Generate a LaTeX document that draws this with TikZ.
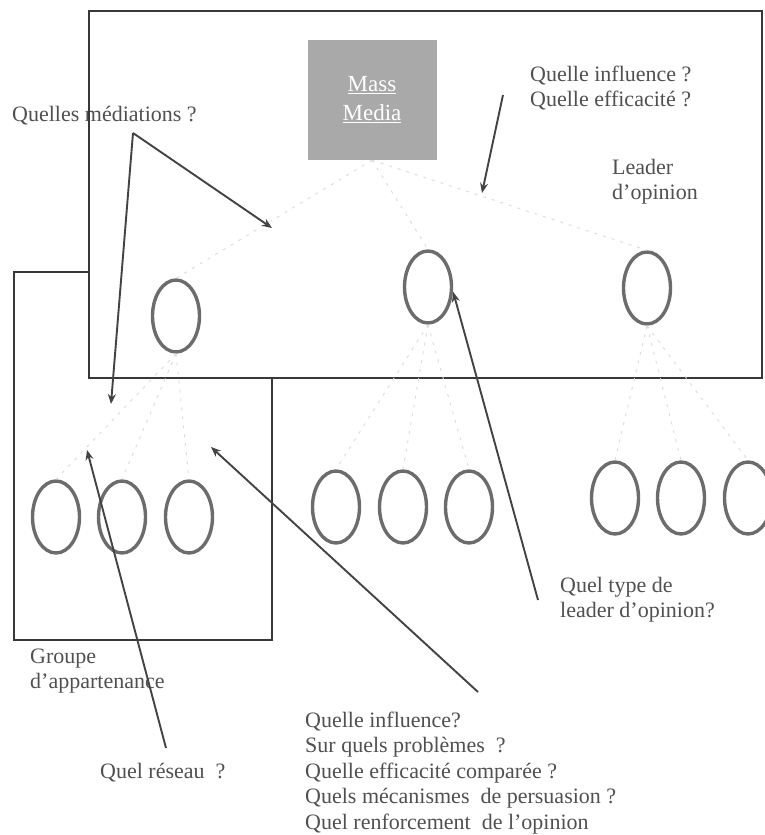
\documentclass[tikz,border=0pt]{standalone}
\usepackage{fontspec}
\setmainfont{Liberation Serif}
\usetikzlibrary{shapes.geometric,arrows.meta}
\definecolor{boxline}{HTML}{383838}
\definecolor{ringcol}{HTML}{6C6C6C}
\definecolor{mediafill}{HTML}{A9A9A9}
\definecolor{txt}{HTML}{505050}
\definecolor{arrowcol}{HTML}{434343}
\begin{document}
\begin{tikzpicture}[x=1pt,y=-1pt,
  frame/.style={draw=boxline,line width=2.8pt},
  person/.style={ellipse,draw=ringcol,line width=3.4pt,minimum width=47pt,minimum height=72pt,inner sep=0pt},
  lbl/.style={text=txt,font=\fontsize{22}{25}\selectfont,align=left,anchor=west,inner sep=0pt},
  pointer/.style={draw=arrowcol,line width=1.9pt,-{Stealth[length=10pt,width=8pt]}},
  link/.style={draw=gray!28,line width=0.9pt,dash pattern=on 3pt off 6pt}]
\useasboundingbox (0,0) rectangle (765,835);

% frames: group box behind the media box
\draw[frame] (14,272) rectangle (272,640);
\draw[frame,fill=white] (89,11) rectangle (762,378);

% mass media
\node[fill=mediafill,minimum width=129pt,minimum height=120pt,inner sep=0pt,
      text=white,font=\fontsize{23}{29}\selectfont,align=center] (media) at (372,100)
  {\underline{Mass}\\\underline{Media}};

% opinion leaders
\node[person] (l1) at (176,316) {};
\node[person] (l2) at (428,287) {};
\node[person] (l3) at (647,288) {};

% group members
\node[person] (a1) at (56,517) {};
\node[person] (a2) at (122,517) {};
\node[person] (a3) at (189,517) {};
\node[person] (b1) at (336,507) {};
\node[person] (b2) at (403,507) {};
\node[person] (b3) at (469,507) {};
\node[person] (c1) at (615,498) {};
\node[person] (c2) at (681,498) {};
\node[person] (c3) at (748,498) {};

% faint flows of influence
\foreach \t in {l1,l2,l3} \draw[link] (media.south) -- (\t.north);
\foreach \t in {a1,a2,a3} \draw[link] (l1.south) -- (\t.north);
\foreach \t in {b1,b2,b3} \draw[link] (l2.south) -- (\t.north);
\foreach \t in {c1,c2,c3} \draw[link] (l3.south) -- (\t.north);

% labels
\node[lbl] (medq) at (12,116) {Quelles médiations ?};
\node[lbl] (infq) at (530,88) {Quelle influence ?\\Quelle efficacité ?};
\node[lbl] (leader) at (612,182) {Leader\\d'opinion};
\node[lbl] (typeq) at (560,600) {Quel type de\\leader d'opinion?};
\node[lbl] (groupe) at (30,671) {Groupe\\d'appartenance};
\node[lbl] (resq) at (100,773) {Quel réseau\ \ ?};
\node[lbl,font=\fontsize{22}{25.5}\selectfont] (multi) at (305,773)
  {Quelle influence?\\Sur quels problèmes\ \ ?\\Quelle efficacité comparée ?\\Quels mécanismes\ \ de persuasion ?\\Quel renforcement\ \ de l'opinion};

% box edge over the label
\draw[boxline,line width=2.8pt] (89,11) -- (89,378);

% pointers
\coordinate (medapex) at (133,133);
\coordinate (medtipA) at (272,228);
\coordinate (medtipB) at (111,404);
\coordinate (inftail) at (503,95);
\coordinate (inftip) at (482,193);
\coordinate (typetail) at (538,600);
\coordinate (restail) at (166,748);
\coordinate (restip) at (87,450);
\coordinate (multail) at (478,692);
\coordinate (multip) at (211,447);
\draw[pointer] (medapex) -- (medtipA);
\draw[pointer] (medapex) -- (medtipB);
\draw[pointer] (inftail) -- (inftip);
\draw[pointer] (typetail) -- ([yshift=-5pt]l2.east);
\draw[pointer] (restail) -- (restip);
\draw[pointer] (multail) -- (multip);
\end{tikzpicture}
\end{document}
